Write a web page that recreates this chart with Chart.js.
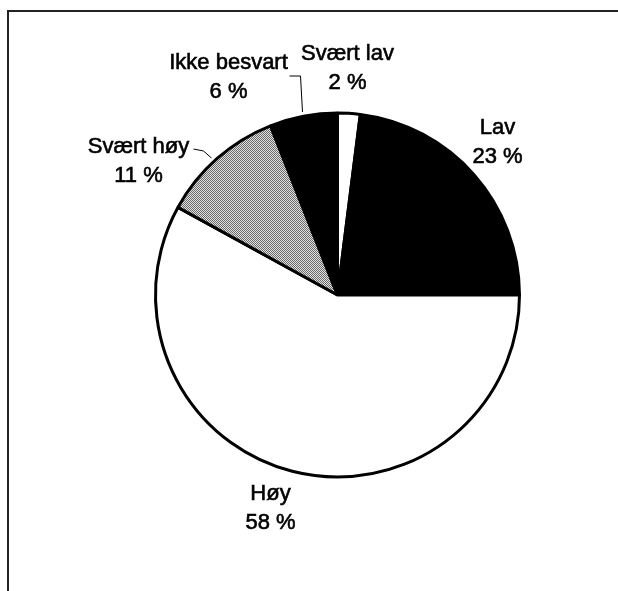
<!DOCTYPE html>
<html>
<head>
<meta charset="utf-8">
<script src="https://cdn.jsdelivr.net/npm/chart.js@4/dist/chart.umd.min.js"></script>
<style>
  html, body { margin: 0; padding: 0; background: #fff; }
  #wrap { position: relative; width: 618px; height: 591px; overflow: hidden; }
  #frame { position: absolute; left: 7px; top: 10px; width: 640px; height: 620px;
           border-left: 2px solid #222; border-top: 2px solid #222; box-sizing: border-box; }
  canvas { position: absolute; left: 0; top: 0; }
</style>
</head>
<body>
<div id="wrap">
  <div id="frame"></div>
  <canvas id="chart" width="618" height="591"></canvas>
</div>
<script>
// slices clockwise from 12 o'clock
const categories = ['Svært lav', 'Lav', 'Høy', 'Svært høy', 'Ikke besvart'];
const percents = [2, 23, 58, 11, 6];

// gray dither used by "Svært høy"
function grayPattern(ctx) {
  const c = document.createElement('canvas');
  c.width = 2; c.height = 2;
  const g = c.getContext('2d');
  g.fillStyle = '#e2e2e2'; g.fillRect(0, 0, 2, 2);
  g.fillStyle = '#6a6a6a'; g.fillRect(0, 0, 1, 1); g.fillRect(1, 1, 1, 1);
  return ctx.createPattern(c, 'repeat');
}

// label placement relative to the pie centre, plus optional leader lines
const labelSpots = [
  { dx: 10, dy: -226 },
  { dx: 160, dy: -152 },
  { dx: -67, dy: 214 },
  { dx: -199, dy: -133, leader: [[-144, -146], [-134, -144], [-126, -137]] },
  { dx: -109, dy: -217, leader: [[-48, -219], [-37, -219], [-35, -183]] }
];

const pieLabels = {
  id: 'pieLabels',
  afterDatasetsDraw(chart) {
    const ctx = chart.ctx;
    const arc = chart.getDatasetMeta(0).data[0];
    const cx = arc.x, cy = arc.y;
    ctx.save();
    ctx.fillStyle = '#000';
    ctx.strokeStyle = '#000';
    ctx.font = '22px "Liberation Sans", Arial, sans-serif';
    ctx.textAlign = 'center';
    ctx.textBaseline = 'middle';
    categories.forEach((name, i) => {
      const s = labelSpots[i];
      const lines = [[name, s.dy - 15], [percents[i] + ' %', s.dy + 14]];
      lines.forEach(([txt, dy]) => {
        ctx.lineWidth = 0.6;
        ctx.fillText(txt, cx + s.dx, cy + dy);
        ctx.strokeText(txt, cx + s.dx, cy + dy);  // scan looks a bit heavy
      });
      if (s.leader) {
        ctx.lineWidth = 1;
        ctx.beginPath();
        s.leader.forEach((p, k) => {
          if (k === 0) ctx.moveTo(cx + p[0], cy + p[1]);
          else ctx.lineTo(cx + p[0], cy + p[1]);
        });
        ctx.stroke();
      }
    });
    ctx.restore();
  }
};

const ctx = document.getElementById('chart').getContext('2d');
new Chart(ctx, {
  type: 'pie',
  data: {
    labels: categories,
    datasets: [{
      data: percents,
      backgroundColor: ['#ffffff', '#000000', '#ffffff', grayPattern(ctx), '#000000'],
      borderColor: '#000000',
      borderWidth: 3
    }]
  },
  options: {
    responsive: false,
    animation: false,
    events: [],
    layout: { padding: { left: 154, right: 97, top: 111.5, bottom: 112.5 } },
    plugins: {
      legend: { display: false },
      tooltip: { enabled: false }
    }
  },
  plugins: [pieLabels]
});
</script>
</body>
</html>
